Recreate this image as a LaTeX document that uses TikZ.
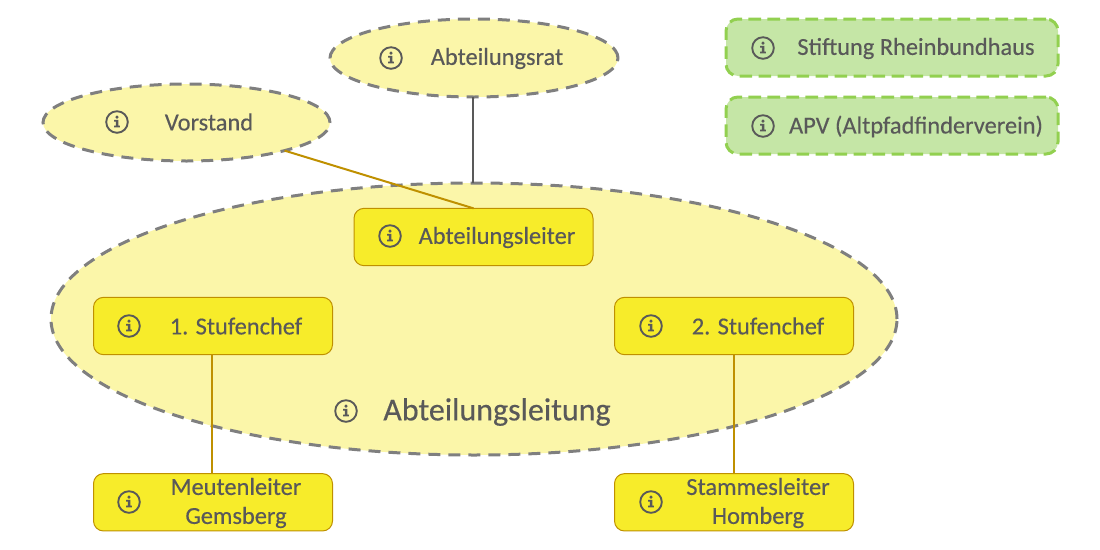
\documentclass[tikz,border=0pt]{standalone}
\usepackage{fontspec}
\setmainfont{Carlito}[RawFeature={embolden=0.35}]
\usetikzlibrary{shapes.geometric}
\definecolor{txtgray}{HTML}{595959}
\definecolor{dashgray}{HTML}{7F7F7F}
\definecolor{softyellow}{HTML}{FBF6A9}
\definecolor{boxyellow}{HTML}{F7EC2A}
\definecolor{boxborder}{HTML}{BF9000}
\definecolor{softgreen}{HTML}{C5E6A6}
\definecolor{dashgreen}{HTML}{92D050}
\tikzset{
  x=0.75pt,y=-0.75pt,
  softell/.style={ellipse,draw=dashgray,fill=softyellow,line width=2.25pt,dash pattern=on 9pt off 6pt,inner sep=0pt,outer sep=0pt},
  yelbox/.style={rectangle,rounded corners=7.5pt,draw=boxborder,fill=boxyellow,line width=0.75pt,minimum width=179.25pt,minimum height=43pt,inner sep=0pt,outer sep=0pt},
  greenbox/.style={rectangle,rounded corners=9pt,draw=dashgreen,fill=softgreen,line width=2.25pt,dash pattern=on 9.5pt off 4.75pt,minimum width=249pt,minimum height=42.75pt,inner sep=0pt,outer sep=0pt},
  lbl/.style={text=txtgray,font=\fontsize{18.3}{21.75}\selectfont,align=center,inner sep=0pt},
  biglbl/.style={text=txtgray,font=\fontsize{24}{28}\selectfont,align=center,inner sep=0pt},
  infoicon/.style={circle,draw=txtgray,line width=1.4pt,minimum size=16.2pt,inner sep=0pt,
    path picture={
      \fill[txtgray] ([yshift=3.6pt]path picture bounding box.center) circle (1.3pt);
      \fill[txtgray] ([xshift=-2.1pt,yshift=1.6pt]path picture bounding box.center) -- ++(3.2pt,0) -- ++(0,-4.4pt) -- ++(1.1pt,0) -- ++(0,-1.3pt) -- ++(-4.4pt,0) -- ++(0,1.3pt) -- ++(1.3pt,0) -- ++(0,3.1pt) -- ++(-1.2pt,0) -- cycle;
    }},
  goldline/.style={draw=boxborder,line width=1.5pt},
  grayline/.style={draw=txtgray,line width=1.5pt},
}
\begin{document}
\begin{tikzpicture}
\useasboundingbox (0,0) rectangle (1100,550);
\node[softell,minimum width=634.5pt,minimum height=204pt] (leitung) at (474,319) {};
\node[softell,minimum width=216pt,minimum height=58.5pt] (rat) at (474,58) {};
\node[softell,minimum width=215.25pt,minimum height=57.75pt] (vorstand) at (186.5,122.5) {};
\node[greenbox] (stiftung) at (892,47.5) {};
\node[greenbox] (apv) at (892,125.5) {};
\node[yelbox] (leiter) at (473.5,237) {};
\node[yelbox] (chefa) at (213,326) {};
\node[yelbox] (chefb) at (734,326) {};
\node[yelbox] (meute) at (213,502.3) {};
\node[yelbox] (stamm) at (734,502.3) {};
\draw[grayline] ([xshift=-0.6pt]rat.south) -- ([xshift=-0.6pt]leitung.north);
\draw[goldline] (vorstand.-16) -- (leiter.north);
\draw[goldline] ([xshift=-0.75pt]chefa.south) -- ([xshift=-0.75pt]meute.north);
\draw[goldline] (chefb.south) -- (stamm.north);
\node[infoicon] (i1) at (391,58) {};
\node[infoicon] (i2) at (117,122) {};
\node[infoicon] (i3) at (763,48) {};
\node[infoicon] (i4) at (763,126) {};
\node[infoicon] (i5) at (390,236) {};
\node[infoicon] (i6) at (129,326) {};
\node[infoicon] (i7) at (651,326) {};
\node[infoicon] (i8) at (346,411) {};
\node[infoicon] (i9) at (129,502) {};
\node[infoicon] (i10) at (651,502) {};
\node[lbl] (t1) at (497,58.5) {Abteilungsrat};
\node[lbl] (t2) at (209,122) {Vorstand};
\node[lbl] (t3) at (916,48.5) {Stiftung Rheinbundhaus};
\node[lbl] (t4) at (916,126.5) {APV (Altpfadfinderverein)};
\node[lbl] (t5) at (497,237.5) {Abteilungsleiter};
\node[lbl] (t6) at (236,326) {1. Stufenchef};
\node[lbl] (t7) at (758,326) {2. Stufenchef};
\node[biglbl] (t8) at (497,412) {Abteilungsleitung};
\node[lbl] (t9) at (236,503) {Meutenleiter\\Gemsberg};
\node[lbl] (t10) at (758,503) {Stammesleiter\\Homberg};
\end{tikzpicture}
\end{document}
